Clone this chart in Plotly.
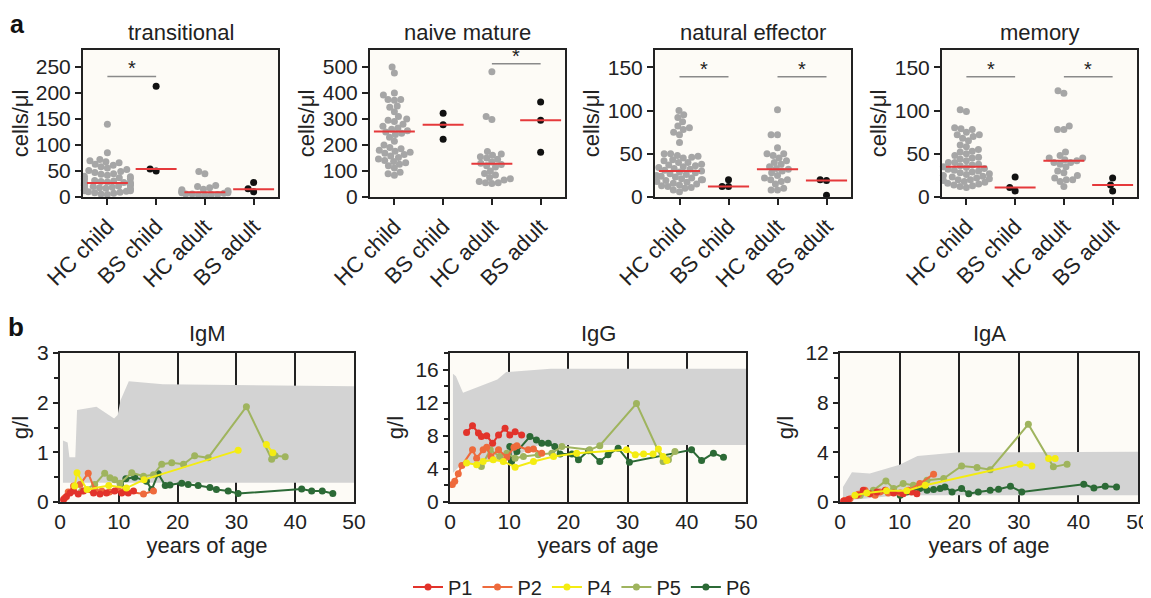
import numpy as np
import plotly.graph_objects as go

PAGE_W, PAGE_H = 1151, 598
OFF = 8  # default body margin of the html page
W, H = PAGE_W, PAGE_H
FONT = "Liberation Sans, Arial, sans-serif"

# ---------------- panel a data ----------------
groups = ["HC child", "BS child", "HC adult", "BS adult"]
a_titles = ["transitional", "naive mature", "natural effector", "memory"]
a_ymax = [283, 565, 170, 170]
a_ytick_step = [50, 100, 50, 50]

trans_hc_child = [140, 85, 72, 70, 68, 66, 63, 61, 58, 56, 53, 51, 49, 47, 45, 44, 42, 40, 39,
                  37, 36, 35, 33, 32, 31, 30, 29, 28, 27, 27, 26, 25, 24, 23, 22, 21, 20, 19, 18,
                  17, 16, 15, 14, 13, 12, 11, 10, 9, 8, 7, 6, 5, 12, 18, 22]
trans_bs_child = [213, 50, 54]
trans_hc_adult = [49, 45, 22, 20, 18, 15, 14, 12, 11, 10, 9, 8, 8, 7, 6, 6, 5, 5, 4, 3]
trans_bs_adult = [28, 10, 16]
trans_med = [27, 54, 9, 15]

naive_hc_child = [500, 477, 400, 392, 375, 375, 372, 350, 345, 328, 309, 300, 295, 290, 280,
                  272, 265, 260, 255, 250, 245, 240, 230, 214, 200, 190, 185, 180, 176, 172,
                  168, 163, 158, 152, 146, 140, 136, 132, 126, 120, 111, 95, 89, 84]
naive_bs_child = [322, 278, 222]
naive_hc_adult = [481, 309, 298, 175, 165, 160, 155, 150, 145, 135, 130, 125, 120, 115, 100,
                  90, 85, 75, 70, 65, 60, 55, 55, 52]
naive_bs_adult = [365, 295, 172]
naive_med = [252, 278, 128, 295]

ne_hc_child = [100, 95, 92, 87, 82, 80, 78, 75, 72, 63, 50, 50, 48, 47, 46, 45, 43, 42, 40, 40,
               38, 37, 36, 35, 34, 33, 32, 31, 30, 29, 28, 27, 26, 25, 24, 23, 22, 21, 20, 20,
               19, 18, 17, 16, 15, 14, 13, 12, 11, 10, 8, 6]
ne_bs_child = [20, 12, 12]
ne_hc_adult = [101, 72, 72, 57, 50, 50, 48, 45, 42, 40, 38, 35, 33, 32, 30, 28, 25, 22, 20, 20,
               18, 15, 10, 8, 8]
ne_bs_adult = [20, 19, 2]
ne_med = [30, 12, 32, 19]

mem_hc_child = [101, 99, 80, 79, 78, 75, 72, 72, 70, 68, 65, 60, 58, 55, 53, 52, 50, 48, 46, 45,
                44, 42, 40, 40, 38, 37, 36, 35, 34, 33, 32, 31, 30, 29, 28, 27, 26, 25, 24, 23,
                22, 21, 20, 20, 19, 18, 17, 16, 15, 14, 13, 12, 11]
mem_bs_child = [23, 11, 7]
mem_hc_adult = [123, 120, 82, 78, 78, 52, 48, 45, 45, 43, 42, 40, 40, 38, 35, 30, 28, 25, 22,
                20, 20, 18, 12]
mem_bs_adult = [22, 14, 7]
mem_med = [35, 11, 42, 14]

# significance brackets: (from group, to group, height)
trans_sig = [(0, 1, 232)]
naive_sig = [(2, 3, 512)]
ne_sig = [(0, 1, 139), (2, 3, 139)]
mem_sig = [(0, 1, 139), (2, 3, 139)]

# ---------------- panel b data ----------------
patients = ["P1", "P2", "P4", "P5", "P6"]
pat_colors = ["#e2332b", "#ee6a3c", "#f4ec12", "#9fb45e", "#2c6a36"]
b_titles = ["IgM", "IgG", "IgA"]
b_ymax = [3, 18, 12]
b_major = [1, 4, 4]
b_minor = [0.5, 2, 2]

# reference ranges (grey bands)
igm_ref_up_age = [0.5, 1.3, 1.6, 2.6, 2.9, 6.2, 9.2, 9.8, 10.3, 11.7, 17.5, 50]
igm_ref_up = [1.24, 1.2, 0.9, 0.9, 1.85, 1.92, 1.68, 1.75, 2.05, 2.43, 2.37, 2.33]
igm_ref_lo_age = [0.5, 50]
igm_ref_lo = [0.39, 0.39]
igg_ref_up_age = [0.5, 1.0, 2.2, 5, 8, 9.5, 17, 50]
igg_ref_up = [15.5, 15.2, 13.2, 14.0, 14.8, 15.7, 16.1, 16.1]
igg_ref_lo_age = [0.5, 2, 9.5, 15, 50]
igg_ref_lo = [3.5, 4.6, 5.0, 6.9, 6.9]
iga_ref_up_age = [0.5, 2, 5, 10, 13, 20, 50]
iga_ref_up = [1.2, 2.4, 2.3, 3.0, 3.7, 4.0, 4.05]
iga_ref_lo_age = [0.5, 5, 10, 50]
iga_ref_lo = [0.1, 0.3, 0.55, 0.55]

igm_p1_age = [0.6, 1.1, 1.7, 2.3, 3.1, 4.0, 5.7, 6.8, 7.9, 9.3, 10.5, 11.6, 12.5]
igm_p1 = [0.05, 0.11, 0.18, 0.22, 0.16, 0.22, 0.18, 0.16, 0.18, 0.22, 0.18, 0.18, 0.22]
igm_p2_age = [0.8, 1.4, 2.3, 3.4, 4.8, 5.9, 7.1, 8.4, 9.9, 11.0, 14.2, 15.9]
igm_p2 = [0.08, 0.2, 0.32, 0.35, 0.58, 0.25, 0.22, 0.2, 0.25, 0.22, 0.16, 0.22]
igm_p4_age = [2.5, 2.9, 4.6, 8.3, 11.3, 14.3, 30.3, None, 35.1, 36.2]
igm_p4 = [0.32, 0.59, 0.25, 0.33, 0.28, 0.45, 1.04, None, 1.16, 0.99]
igm_p5_age = [3.7, 5.9, 7.6, 8.5, 9.3, 10.2, 12.2, 14.2, 15.9, 17.3, 19.0, 21.0, 22.9, 25.2,
              31.7, 36.0, 36.6, 38.3]
igm_p5 = [0.22, 0.35, 0.58, 0.49, 0.45, 0.38, 0.59, 0.52, 0.55, 0.76, 0.79, 0.76, 0.93, 0.89,
          1.92, 0.86, 0.93, 0.91]
igm_p6_age = [10.3, 11.2, 12.7, 14.7, 15.6, 16.7, 17.9, 18.7, 20.7, 21.8, 23.5, 25.5, 26.6,
              28.6, 30.3, 41.1, 42.8, 44.6, 46.4]
igm_p6 = [0.36, 0.47, 0.5, 0.42, 0.25, 0.57, 0.33, 0.34, 0.38, 0.35, 0.33, 0.29, 0.25, 0.22,
          0.17, 0.26, 0.22, 0.22, 0.17]

igg_p1_age = [2.8, 3.8, 4.8, 5.3, 6.2, 7.2, 8.2, 9.3, 10.1, 11.0, 12.1]
igg_p1 = [8.4, 9.2, 8.35, 7.9, 8.0, 7.1, 8.1, 8.9, 8.1, 8.5, 8.1]
igg_p2_age = [0.4, 0.8, 1.4, 2.0, 3.8, 4.5, 5.6, 6.2, 6.9, 8.2, 9.6, 10.8, 11.3, 13.2, 14.1, 15.5]
igg_p2 = [2.1, 2.5, 3.4, 4.4, 6.3, 5.3, 6.3, 6.6, 5.5, 6.3, 5.4, 6.6, 6.8, 6.3, 6.4, 5.9]
igg_p4_age = [2.8, 4.5, 5.6, 7.3, 9.0, 11.0, 14.1, 17.5, 21.4, 29.8, 31.3, 32.7, 34.3, 35.2,
              36.0, 36.6]
igg_p4 = [4.7, 4.5, 4.9, 5.1, 4.9, 4.2, 4.9, 5.5, 5.9, 6.3, 5.7, 5.8, 5.8, 6.4, 5.5, 5.0]
igg_p5_age = [5.3, 6.8, 8.4, 9.6, 11.0, 12.4, 14.9, 17.2, 18.9, 23.6, 25.3, 31.5, 36.0, 36.9, 38.0]
igg_p5 = [4.3, 6.3, 5.5, 5.9, 5.3, 5.5, 5.7, 5.9, 6.7, 6.3, 6.8, 11.9, 4.9, 5.1, 6.1]
igg_p6_age = [10.1, 10.4, 11.3, 13.5, 14.6, 15.5, 16.6, 17.7, 18.6, 20.6, 21.7, 23.4, 25.3,
              26.7, 28.4, 30.3, 40.8, 42.5, 44.5, 46.2]
igg_p6 = [6.7, 4.9, 6.1, 7.9, 7.5, 7.1, 7.1, 6.7, 5.8, 5.8, 5.1, 6.2, 4.9, 5.7, 6.5, 4.8, 6.3,
          5.0, 5.9, 5.4]

iga_p1_age = [0.6, 1.4, 2.8, 3.9, 5.0, 6.2, 7.6, 9.0, 10.6, 12.0, 12.9]
iga_p1 = [0.08, 0.2, 0.54, 0.94, 0.67, 0.81, 0.94, 0.73, 0.67, 0.81, 0.67]
iga_p2_age = [0.8, 1.7, 3.1, 4.2, 5.9, 6.7, 8.1, 10.1, 11.5, 13.4, 15.7]
iga_p2 = [0.13, 0.27, 0.62, 0.94, 0.54, 0.81, 0.73, 0.73, 0.94, 1.48, 2.24]
iga_p4_age = [2.5, 4.5, 7.8, 11.2, 14.3, 30.2, 32.2, None, 35.0, 36.1]
iga_p4 = [0.54, 0.73, 0.9, 0.9, 1.35, 3.05, 2.9, None, 3.5, 3.5]
iga_p5_age = [3.4, 5.6, 7.7, 9.0, 10.6, 12.3, 14.6, 17.4, 20.4, 23.0, 25.2, 31.6, 35.8, 38.1]
iga_p5 = [0.54, 0.94, 1.7, 1.08, 1.48, 1.35, 1.75, 1.89, 2.9, 2.78, 2.6, 6.26, 2.83, 3.05]
iga_p6_age = [10.1, 11.2, 13.4, 14.6, 15.7, 16.8, 17.6, 18.8, 20.4, 21.6, 23.2, 25.2, 26.6,
              28.6, 30.5, 40.9, 42.6, 44.5, 46.4]
iga_p6 = [0.54, 0.81, 1.08, 0.94, 1.0, 1.08, 1.21, 0.81, 1.08, 0.67, 0.81, 0.94, 1.02, 1.27,
          0.81, 1.43, 1.13, 1.27, 1.21]

# ---------------- layout geometry (page pixels) ----------------
A_X = [(83, 278), (370, 565), (655, 851), (942, 1137)]
A_Y = (50, 197)
B_X = [(60, 354), (450, 746), (840, 1138)]
B_Y = (353, 502)
FS = 22   # titles
TFS = 21  # tick labels

def px(x):
    return (x - OFF) / W

def py(y):
    return 1 - (y - OFF) / H

def xd(a, b):
    return [px(a), px(b)]

def yd(top, bottom):
    return [py(bottom), py(top)]


def swarm(vals, px_per_unit, d=6.4, maxw=23.0):
    order = sorted(range(len(vals)), key=lambda i: vals[i])
    placed = []
    offs = [0.0] * len(vals)
    for i in order:
        y = vals[i] * px_per_unit
        forb = []
        for (qx, qy) in placed:
            dy = abs(qy - y)
            if dy < d:
                w = np.sqrt(d * d - dy * dy)
                forb.append((qx - w, qx + w))
        cands = [0.0] + [a for a, b in forb] + [b for a, b in forb]
        cands = sorted(cands, key=lambda c: (abs(c), c))
        x = 0.0
        for c in cands:
            if all(not (a + 1e-9 < c < b - 1e-9) for a, b in forb):
                x = c
                break
        x = max(-maxw, min(maxw, x))
        placed.append((x, y))
        offs[i] = x
    return offs


fig = go.Figure()
layout = dict(
    width=W, height=H, margin=dict(l=0, r=0, t=0, b=0, autoexpand=False),
    paper_bgcolor="white", font=dict(family=FONT, size=FS, color="#222"),
    showlegend=True,
)
annotations = []
shapes = []

a_sets = [
    ([trans_hc_child, trans_bs_child, trans_hc_adult, trans_bs_adult], trans_med, trans_sig),
    ([naive_hc_child, naive_bs_child, naive_hc_adult, naive_bs_adult], naive_med, naive_sig),
    ([ne_hc_child, ne_bs_child, ne_hc_adult, ne_bs_adult], ne_med, ne_sig),
    ([mem_hc_child, mem_bs_child, mem_hc_adult, mem_bs_adult], mem_med, mem_sig),
]

plot_bg = "#fdfbf6"
n = 0
for k, (sets, meds, sigs) in enumerate(a_sets):
    n += 1
    xa = "x" if n == 1 else f"x{n}"
    ya = "y" if n == 1 else f"y{n}"
    x0, x1 = A_X[k]
    pxu = (A_Y[1] - A_Y[0]) / a_ymax[k]
    pxcat = (x1 - x0) / 4.0
    for g, vals in enumerate(sets):
        offs = swarm(vals, pxu)
        xs = [g + o / pxcat for o in offs]
        col = "#a6a6a6" if g in (0, 2) else "#111111"
        fig.add_trace(go.Scatter(x=xs, y=vals, mode="markers", xaxis=xa, yaxis=ya,
                                 marker=dict(size=7, color=col), showlegend=False,
                                 cliponaxis=False, hoverinfo="skip"))
    for g, m in enumerate(meds):
        fig.add_trace(go.Scatter(x=[g - 0.42, g + 0.42], y=[m, m], mode="lines",
                                 xaxis=xa, yaxis=ya, line=dict(color="#e5393b", width=2),
                                 showlegend=False, hoverinfo="skip"))
    for (ga, gb, hy) in sigs:
        fig.add_trace(go.Scatter(x=[ga, gb], y=[hy, hy], mode="lines", xaxis=xa, yaxis=ya,
                                 line=dict(color="#8a8a8a", width=1.5), showlegend=False,
                                 hoverinfo="skip"))
        annotations.append(dict(x=(ga + gb) / 2, y=hy, xref=xa, yref=ya, text="*",
                                showarrow=False, xanchor="center", yanchor="bottom",
                                yshift=-5, font=dict(size=20, color="#222")))
    layout["xaxis" if n == 1 else f"xaxis{n}"] = dict(
        domain=xd(x0, x1), anchor=ya, range=[-0.5, 3.5], tickvals=[0, 1, 2, 3],
        ticktext=groups, tickangle=-45, ticks="outside", ticklen=6, tickwidth=2,
        tickcolor="#222", showline=True, linecolor="#222", linewidth=2, mirror=True,
        showgrid=False, zeroline=False, tickfont=dict(size=FS), automargin=False)
    layout["yaxis" if n == 1 else f"yaxis{n}"] = dict(
        domain=yd(*A_Y), anchor=xa, range=[0, a_ymax[k]], dtick=a_ytick_step[k],
        ticks="outside", ticklen=6, tickwidth=2, tickcolor="#222", showline=True,
        linecolor="#222", linewidth=2, mirror=True, showgrid=False, zeroline=False,
        title=dict(text="cells/μl", font=dict(size=FS), standoff=2), tickfont=dict(size=TFS),
        automargin=False)
    shapes.append(dict(type="rect", xref="paper", yref="paper", layer="below",
                       x0=px(x0), x1=px(x1), y0=py(A_Y[1]), y1=py(A_Y[0]),
                       fillcolor=plot_bg, line=dict(width=0)))
    annotations.append(dict(x=px((x0 + x1) / 2), y=py(33), xref="paper", yref="paper",
                            text=a_titles[k], showarrow=False, font=dict(size=FS),
                            xanchor="center", yanchor="middle"))

b_refs = [
    (igm_ref_up_age, igm_ref_up, igm_ref_lo_age, igm_ref_lo),
    (igg_ref_up_age, igg_ref_up, igg_ref_lo_age, igg_ref_lo),
    (iga_ref_up_age, iga_ref_up, iga_ref_lo_age, iga_ref_lo),
]
b_series = [
    [(igm_p1_age, igm_p1), (igm_p2_age, igm_p2), (igm_p4_age, igm_p4), (igm_p5_age, igm_p5),
     (igm_p6_age, igm_p6)],
    [(igg_p1_age, igg_p1), (igg_p2_age, igg_p2), (igg_p4_age, igg_p4), (igg_p5_age, igg_p5),
     (igg_p6_age, igg_p6)],
    [(iga_p1_age, iga_p1), (iga_p2_age, iga_p2), (iga_p4_age, iga_p4), (iga_p5_age, iga_p5),
     (iga_p6_age, iga_p6)],
]
draw_order = [4, 3, 1, 0, 2]
for k in range(3):
    n += 1
    xa, ya = f"x{n}", f"y{n}"
    x0, x1 = B_X[k]
    ua, uv, la, lv = b_refs[k]
    fig.add_trace(go.Scatter(x=list(ua) + list(la)[::-1], y=list(uv) + list(lv)[::-1],
                             mode="lines", fill="toself", fillcolor="#d3d3d3",
                             line=dict(width=0, color="#d3d3d3"), xaxis=xa, yaxis=ya,
                             showlegend=False, hoverinfo="skip"))
    for p in draw_order:
        ax, vv = b_series[k][p]
        fig.add_trace(go.Scatter(x=ax, y=vv, mode="lines+markers", xaxis=xa, yaxis=ya,
                                 name=patients[p], legendgroup=patients[p],
                                 legendrank=p, showlegend=(k == 0),
                                 line=dict(color=pat_colors[p], width=2),
                                 marker=dict(color=pat_colors[p], size=7),
                                 connectgaps=False, cliponaxis=True, hoverinfo="skip"))
    layout[f"xaxis{n}"] = dict(
        domain=xd(x0, x1), anchor=ya, range=[0, 50], dtick=10, ticks="", showgrid=True,
        gridcolor="#222", gridwidth=2, showline=True, linecolor="#222", linewidth=2,
        mirror=True, zeroline=False, layer="above traces",
        title=dict(text="years of age", font=dict(size=FS), standoff=0),
        tickfont=dict(size=TFS), automargin=False)
    layout[f"yaxis{n}"] = dict(
        domain=yd(*B_Y), anchor=xa, range=[0, b_ymax[k]], dtick=b_major[k],
        tickvals=list(np.arange(0, b_ymax[k] + 1e-9, b_major[k])),
        ticks="outside", ticklen=5, tickwidth=1.5, tickcolor="#222", showline=True,
        linecolor="#222", linewidth=2, mirror=True, showgrid=False, zeroline=False,
        minor=dict(dtick=b_minor[k], ticks="outside", ticklen=4, tickcolor="#222",
                   showgrid=False),
        title=dict(text="g/l", font=dict(size=FS), standoff=6), tickfont=dict(size=TFS),
        automargin=False)
    shapes.append(dict(type="rect", xref="paper", yref="paper", layer="below",
                       x0=px(x0), x1=px(x1), y0=py(B_Y[1]), y1=py(B_Y[0]),
                       fillcolor=plot_bg, line=dict(width=0)))
    annotations.append(dict(x=px((x0 + x1) / 2), y=py(333), xref="paper", yref="paper",
                            text=b_titles[k], showarrow=False, font=dict(size=FS),
                            xanchor="center", yanchor="middle"))

annotations.append(dict(x=px(17), y=py(8.5), xref="paper", yref="paper", text="<b>a</b>",
                        showarrow=False, xanchor="center", yanchor="top", borderpad=0,
                        font=dict(size=25, color="#111")))
annotations.append(dict(x=px(16), y=py(327), xref="paper", yref="paper", text="<b>b</b>",
                        showarrow=False, xanchor="center", yanchor="middle",
                        font=dict(size=26, color="#111")))

layout["annotations"] = annotations
layout["shapes"] = shapes
layout["plot_bgcolor"] = "rgba(0,0,0,0)"
layout["legend"] = dict(orientation="h", x=px(582), xanchor="center", y=py(587),
                        yanchor="middle", font=dict(size=20), traceorder="normal",
                        itemwidth=30, bgcolor="rgba(0,0,0,0)")
fig.update_layout(**layout)
fig.write_html("out.html")
